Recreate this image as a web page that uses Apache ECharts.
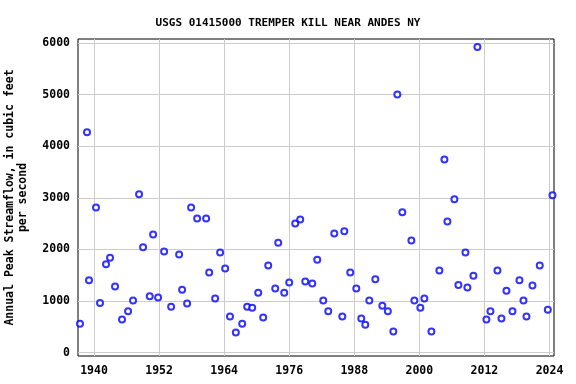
<!DOCTYPE html>
<html lang="en">
<head>
<meta charset="UTF-8">
<title>USGS 01415000</title>
<script src="https://cdn.jsdelivr.net/npm/echarts@6/dist/echarts.min.js"></script>
</head>
<body style="margin:0">
<div id="main" style="width:576px;height:384px;"></div>
<script>
// peak dates as decimal years, and annual peak flow (cfs)
var peakYears = [
  1937.42, 1938.71, 1939.08, 1940.37, 1941.11, 1942.22, 1942.96, 1943.88, 1945.17, 1946.28,
  1947.20, 1948.31, 1949.05, 1950.28, 1950.90, 1951.82, 1952.93, 1954.22, 1955.70, 1956.25,
  1957.17, 1957.91, 1959.02, 1960.68, 1961.24, 1962.34, 1963.26, 1964.19, 1965.08, 1966.16,
  1967.33, 1968.25, 1969.17, 1970.28, 1971.20, 1972.13, 1973.42, 1973.97, 1975.08, 1976.00,
  1977.11, 1978.03, 1978.96, 1980.25, 1981.17, 1982.28, 1983.20, 1984.31, 1985.79, 1986.16,
  1987.26, 1988.37, 1989.29, 1990.03, 1990.77, 1991.88, 1993.17, 1994.19, 1995.20, 1995.94,
  1996.86, 1998.53, 1999.08, 2000.18, 2000.92, 2002.22, 2003.69, 2004.62, 2005.17, 2006.46,
  2007.20, 2008.50, 2008.86, 2009.97, 2010.71, 2012.37, 2013.11, 2014.40, 2015.14, 2016.06,
  2017.17, 2018.46, 2019.20, 2019.75, 2020.86, 2022.20, 2023.69, 2024.55
];
var peakFlows = [
  560, 4270, 1400, 2810, 960, 1710, 1840, 1280, 640, 800,
  1010, 3070, 2040, 1090, 2290, 1070, 1960, 890, 1900, 1220,
  950, 2810, 2600, 2600, 1550, 1050, 1940, 1630, 700, 390,
  560, 890, 870, 1160, 680, 1690, 1240, 2130, 1160, 1360,
  2500, 2580, 1380, 1340, 1800, 1010, 800, 2310, 700, 2350,
  1550, 1240, 660, 540, 1010, 1420, 910, 800, 410, 5000,
  2720, 2170, 1010, 870, 1050, 410, 1590, 3740, 2540, 2970,
  1310, 1940, 1260, 1490, 5920, 640, 800, 1590, 660, 1200,
  800, 1400, 1010, 700, 1300, 1690, 830, 3050
];
var xTicks = [1940, 1952, 1964, 1976, 1988, 2000, 2012, 2024];
var yTicks = [0, 1000, 2000, 3000, 4000, 5000, 6000];

var points = [];
for (var i = 0; i < peakYears.length; i++) {
  points.push([peakYears[i], peakFlows[i]]);
}

var font = 'DejaVu Sans Mono';
var myChart = echarts.init(document.getElementById('main'));
var option = {
  animation: false,
  title: {
    text: 'USGS 01415000 TREMPER KILL NEAR ANDES NY',
    left: 'center',
    top: 13,
    textStyle: { fontFamily: font, fontSize: 11, fontWeight: 'bold', color: '#000' }
  },
  grid: {
    left: 78, right: 22, top: 39, bottom: 28,
    outerBoundsMode: 'none',
    containLabel: false,
    show: true, borderColor: '#000', borderWidth: 1
  },
  xAxis: {
    type: 'value',
    min: 1937.05,
    max: 2024.83,
    axisLine: { show: false },
    axisTick: { show: false, customValues: xTicks },
    axisLabel: {
      customValues: xTicks,
      margin: 9,
      fontFamily: font, fontSize: 11.5, fontWeight: 'bold', color: '#000',
      formatter: function (v) { return String(Math.round(v)); }
    },
    splitLine: { show: true, lineStyle: { color: '#cccccc', width: 1 } }
  },
  yAxis: {
    type: 'value',
    min: -66,
    max: 6077,
    name: 'Annual Peak Streamflow, in cubic feet\nper second',
    nameLocation: 'middle',
    nameGap: 48,
    nameTextStyle: { fontFamily: font, fontSize: 11.5, fontWeight: 'bold', color: '#000', lineHeight: 13 },
    axisLine: { show: false },
    axisTick: { show: false, customValues: yTicks },
    axisLabel: {
      customValues: yTicks,
      margin: 8,
      fontFamily: font, fontSize: 11.5, fontWeight: 'bold', color: '#000',
      formatter: function (v) { return String(Math.round(v)); }
    },
    splitLine: { show: true, lineStyle: { color: '#cccccc', width: 1 } }
  },
  series: [{
    type: 'scatter',
    symbol: 'emptyCircle',
    symbolSize: 6,
    clip: false,
    itemStyle: { color: '#0000ff', borderColor: '#0000ff', borderWidth: 1 },
    data: points
  }]
};
myChart.setOption(option);
</script>
</body>
</html>
